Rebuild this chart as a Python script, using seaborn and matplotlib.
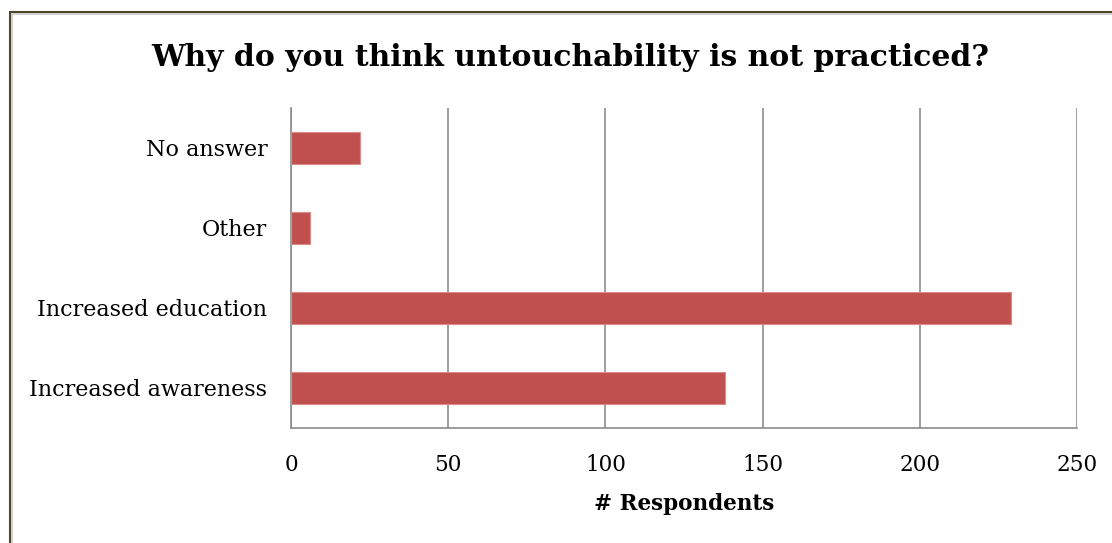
import matplotlib
matplotlib.use("Agg")
import matplotlib.pyplot as plt
import seaborn as sns
import pandas as pd
from matplotlib.patches import Rectangle

categories = ["No answer", "Other", "Increased education", "Increased awareness"]
respondents = [22, 6, 229, 138]
x_ticks = [0, 50, 100, 150, 200, 250]

df = pd.DataFrame({"reason": categories, "count": respondents})

sns.set_theme(style="white")
plt.rcParams["font.family"] = ["DejaVu Serif"]
plt.rcParams["text.color"] = "black"
plt.rcParams["xtick.color"] = "black"
plt.rcParams["ytick.color"] = "black"
plt.rcParams["axes.labelcolor"] = "black"

fig = plt.figure(figsize=(11.12, 5.43), dpi=100)
ax = fig.add_axes([291 / 1112, 1 - 428 / 543, (1077 - 291) / 1112, (428 - 108) / 543])

sns.barplot(data=df, x="count", y="reason", order=categories, color="#C0504D",
            saturation=1, width=0.39, linewidth=0.8, edgecolor="#d98c8a",
            ax=ax, zorder=3)

ax.set_xlim(0, 250)
ax.set_xticks(x_ticks)
ax.set_xticklabels([str(t) for t in x_ticks], fontsize=15.5)
ax.tick_params(axis="y", labelsize=16, length=0, pad=17)
ax.tick_params(axis="x", length=0, pad=19)
ax.xaxis.grid(True, color="#8c8c8c", linewidth=1.2, zorder=0)
ax.yaxis.grid(False)
for side in ["top", "right"]:
    ax.spines[side].set_visible(False)
for side in ["left", "bottom"]:
    ax.spines[side].set_color("#8c8c8c")
    ax.spines[side].set_linewidth(1.2)
ax.set_ylabel("")
ax.set_xlabel("# Respondents", fontsize=15.5, fontweight="bold", labelpad=12)

fig.text(570 / 1112, 1 - 58 / 543, "Why do you think untouchability is not practiced?",
         ha="center", va="center", fontsize=21.5, fontweight="bold")

# chart frame
fig.patches.append(Rectangle((9.5 / 1112, -0.1), 1.2, 1 - 12.5 / 543 + 0.1,
                             transform=fig.transFigure, fill=False,
                             edgecolor="#4d472b", linewidth=1.5))
fig.patches.append(Rectangle((11.5 / 1112, -0.1), 1.2, 1 - 14.5 / 543 + 0.1,
                             transform=fig.transFigure, fill=False,
                             edgecolor="#c8c8c8", linewidth=1.2))

fig.savefig("out.png", dpi=100)
